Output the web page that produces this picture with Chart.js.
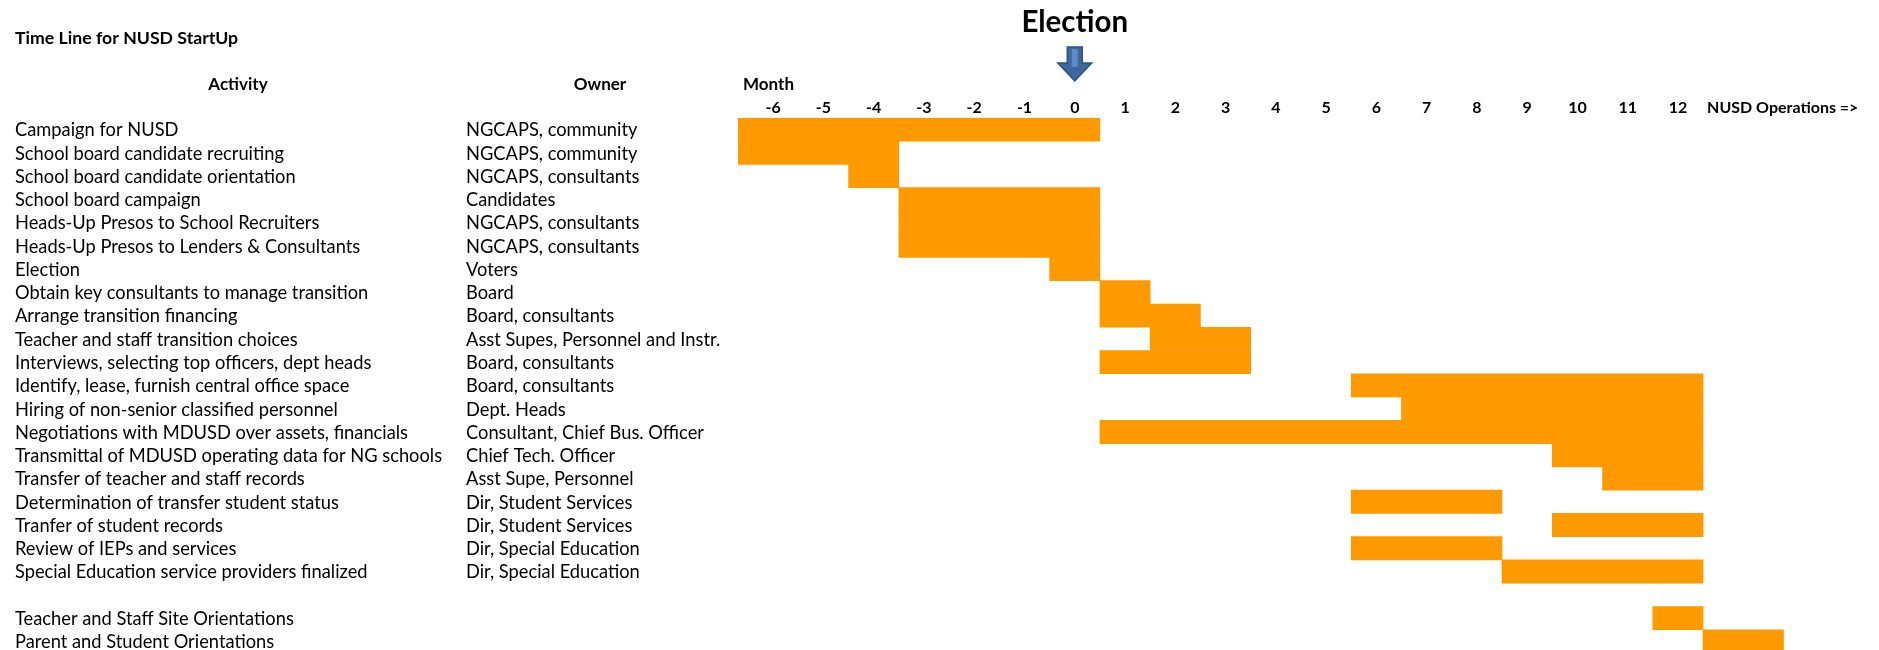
<!DOCTYPE html>
<html>
<head>
<meta charset="utf-8">
<title>Time Line for NUSD StartUp</title>
<script src="https://cdn.jsdelivr.net/npm/chart.js@4"></script>
<style>
  html, body { margin: 0; padding: 0; background: #fff; overflow: hidden; }
  canvas { display: block; }
</style>
</head>
<body>
<canvas id="chart" width="1879" height="660"></canvas>
<script>
// activity rows, top to bottom ('' = spacer row)
const activities = [
    'Campaign for NUSD',
    'School board candidate recruiting',
    'School board candidate orientation',
    'School board campaign',
    'Heads-Up Presos to School Recruiters',
    'Heads-Up Presos to Lenders & Consultants',
    'Election',
    'Obtain key consultants to manage transition',
    'Arrange transition financing',
    'Teacher and staff transition choices',
    'Interviews, selecting top officers, dept heads',
    'Identify, lease, furnish central office space',
    'Hiring of non-senior classified personnel',
    'Negotiations with MDUSD over assets, financials',
    'Transmittal of MDUSD operating data for NG schools',
    'Transfer of teacher and staff records',
    'Determination of transfer student status',
    'Tranfer of student records',
    'Review of IEPs and services',
    'Special Education service providers finalized',
    '',
    'Teacher and Staff Site Orientations',
    'Parent and Student Orientations'
];

const owners = [
    'NGCAPS, community',
    'NGCAPS, community',
    'NGCAPS, consultants',
    'Candidates',
    'NGCAPS, consultants',
    'NGCAPS, consultants',
    'Voters',
    'Board',
    'Board, consultants',
    'Asst Supes, Personnel and Instr.',
    'Board, consultants',
    'Board, consultants',
    'Dept. Heads',
    'Consultant, Chief Bus. Officer',
    'Chief Tech. Officer',
    'Asst Supe, Personnel',
    'Dir, Student Services',
    'Dir, Student Services',
    'Dir, Special Education',
    'Dir, Special Education',
    '',
    '',
    ''
];

// bar edges in months relative to the election (month 0)
const startMonth = [-6.7, -6.7, -4.5, -3.5, -3.5, -3.5, -0.5, 0.5, 0.5, 1.5, 0.5,
                    5.5, 6.5, 0.5, 9.5, 10.5, 5.5, 9.5, 5.5, 8.5, null, 11.5, 12.5];
const endMonth   = [0.5, -3.5, -3.5, 0.5, 0.5, 0.5, 0.5, 1.5, 2.5, 3.5, 3.5,
                    12.5, 12.5, 12.5, 12.5, 12.5, 8.5, 12.5, 8.5, 12.5, null, 12.5, 14.1];

const monthTicks = [-6, -5, -4, -3, -2, -1, 0, 1, 2, 3, 4, 5, 6, 7, 8, 9, 10, 11, 12];

const textFont = 'Lato';

// sheet text: headers, activity / owner columns, month row, election marker
const sheetText = {
    id: 'sheetText',
    afterDraw(chart) {
        const { ctx, scales: { x, y } } = chart;
        ctx.save();
        ctx.fillStyle = '#000';
        ctx.textBaseline = 'middle';

        ctx.font = '18.3px ' + textFont;
        ctx.textAlign = 'left';
        activities.forEach((a, i) => {
            const yy = y.getPixelForValue(i) + 1;
            ctx.fillText(a, 15, yy);
            ctx.fillText(owners[i], 466, yy);
        });

        ctx.font = 'bold 17.7px ' + textFont;
        ctx.fillText('Time Line for NUSD StartUp', 15, 38);

        ctx.font = 'bold 17px ' + textFont;
        ctx.fillText('Month', x.getPixelForValue(-6.6), 85);
        ctx.textAlign = 'center';
        ctx.fillText('Activity', 238, 85);
        ctx.fillText('Owner', 600, 85);

        ctx.font = 'bold 16px ' + textFont;
        monthTicks.forEach(m => ctx.fillText(String(m), x.getPixelForValue(m), 107.5));
        ctx.textAlign = 'left';
        ctx.fillText('NUSD Operations =>', x.getPixelForValue(12.5) + 4, 107.5);

        // election title + arrow over month 0
        const ex = x.getPixelForValue(0);
        ctx.font = 'bold 29.5px ' + textFont;
        ctx.textAlign = 'center';
        ctx.fillText('Election', ex, 22);

        ctx.beginPath();
        ctx.moveTo(ex - 7.5, 47);
        ctx.lineTo(ex + 7.5, 47);
        ctx.lineTo(ex + 7.5, 63);
        ctx.lineTo(ex + 17, 63);
        ctx.lineTo(ex, 81);
        ctx.lineTo(ex - 17, 63);
        ctx.lineTo(ex - 7.5, 63);
        ctx.closePath();
        ctx.fillStyle = '#3F679E';
        ctx.fill();
        ctx.strokeStyle = '#2E5286';
        ctx.lineWidth = 1.5;
        ctx.stroke();
        ctx.fillStyle = '#5B8BCB';
        ctx.fillRect(ex - 3, 49, 6, 18);
        ctx.restore();
    }
};

const ctx = document.getElementById('chart').getContext('2d');
new Chart(ctx, {
    type: 'bar',
    data: {
        labels: activities,
        datasets: [{
            data: activities.map((a, i) => startMonth[i] == null ? null : [startMonth[i], endMonth[i]]),
            backgroundColor: '#FF9900',
            borderWidth: 0,
            barPercentage: 1,
            categoryPercentage: 1
        }]
    },
    options: {
        indexAxis: 'y',
        responsive: false,
        animation: false,
        layout: { padding: { left: 738, right: 0, top: 117.8, bottom: 7 } },
        plugins: { legend: { display: false }, tooltip: { enabled: false } },
        scales: {
            x: { type: 'linear', min: -6.7, max: 16, display: false },
            y: { display: false }
        }
    },
    plugins: [sheetText]
});
</script>
</body>
</html>
